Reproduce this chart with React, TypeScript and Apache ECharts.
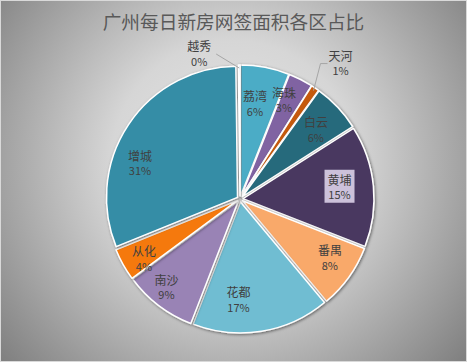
import React, { useEffect, useRef } from "react";
import * as echarts from "echarts";

const titleText = "广州每日新房网签面积各区占比";
const districts = ["荔湾", "海珠", "天河", "白云", "黄埔", "番禺", "花都", "南沙", "从化", "增城", "越秀"];
const shares = [6, 3, 1, 6, 15, 8, 17, 9, 4, 31, 0.2];
const colors = ["#4bacc6", "#8064a2", "#c55a11", "#276a7c", "#4a3860", "#f9a96b", "#70bdd2", "#9983b5", "#f5790c", "#358da6", "#5a9bd5"];
const outsideLabels = ["天河", "越秀"];
const boxedLabels = ["黄埔"];
// small label nudges (layout only), matching the reference's best-fit label placement
const labelNudges: Record<string, [number, number]> = {
  荔湾: [-4, 4],
  海珠: [-2, -9],
  白云: [2, 0],
  黄埔: [-1.5, -3],
  番禺: [7.5, -1],
  花都: [-18, 0],
  南沙: [-12, 7],
  从化: [-7.5, 9.5],
  增城: [-15.5, 20],
};

const FONT = "'Noto Sans CJK SC', 'Noto Sans', sans-serif";

export default function App() {
  const ref = useRef<HTMLDivElement>(null);
  useEffect(() => {
    document.body.style.margin = "0";
    const chart = echarts.init(ref.current!, undefined, { renderer: "svg" });
    const cx = 239;
    const cy = 198;
    const R = 131;

    const mainData = districts.map((name, i) => ({
      name,
      value: shares[i],
      selected: true,
      itemStyle: { color: colors[i] },
    }));

    const labelData = districts.map((name, i) => {
      const outside = outsideLabels.includes(name);
      const boxed = boxedLabels.includes(name);
      const item: any = { name, value: shares[i] };
      if (outside) {
        item.label = { position: "outside", distanceToLabelLine: 2 };
        item.labelLine = { show: true, length: 14, length2: 8 };
      }
      if (boxed) {
        item.label = { backgroundColor: "#ccc1da", padding: [2, 3, 1, 3] };
      }
      return item;
    });

    chart.setOption({
      animation: false,
      backgroundColor: "transparent",
      title: {
        text: titleText,
        left: "center",
        top: 5,
        textStyle: { fontFamily: FONT, fontSize: 18.7, fontWeight: "normal", color: "#595959" },
      },
      series: [
        {
          type: "pie",
          z: 2,
          center: [cx, cy],
          radius: [0, R],
          startAngle: 90,
          clockwise: true,
          selectedMode: "multiple",
          selectedOffset: 3,
          silent: true,
          label: { show: false },
          labelLine: { show: false },
          itemStyle: {
            borderColor: "#ffffff",
            borderWidth: 1.5,
            shadowBlur: 3,
            shadowColor: "rgba(0,0,0,0.5)",
            shadowOffsetX: 1,
            shadowOffsetY: 1,
          },
          select: { itemStyle: { borderColor: "#ffffff", borderWidth: 1.5 } },
          data: mainData,
        },
        {
          type: "pie",
          z: 5,
          center: [cx, cy],
          radius: [66, R],
          startAngle: 90,
          clockwise: true,
          silent: true,
          avoidLabelOverlap: false,
          percentPrecision: 0,
          itemStyle: { color: "transparent", borderWidth: 0 },
          label: {
            show: true,
            position: "inside",
            formatter: "{n|{b}}\n{p|{d}%}",
            rich: {
              n: { fontFamily: FONT, fontSize: 12, color: "#404040", lineHeight: 15, align: "center" },
              p: { fontFamily: FONT, fontSize: 11, color: "#404040", lineHeight: 15, align: "center" },
            },
          },
          labelLine: { show: false, lineStyle: { color: "#a6a6a6", width: 1 } },
          labelLayout: (params: any) => {
            const name = districts[params.dataIndex];
            const pts = params.labelLinePoints;
            if (!outsideLabels.includes(name)) {
              const nudge = labelNudges[name];
              return nudge ? { dx: nudge[0], dy: nudge[1] } : {};
            }
            if (!pts) return {};
            const p0 = pts[0];
            if (name === "天河") {
              const p1 = [p0[0] + 7, p0[1] - 27];
              const p2 = [p1[0] + 7, p1[1]];
              return {
                x: p2[0] + 1,
                y: p2[1] - 1,
                align: "left",
                verticalAlign: "middle",
                labelLinePoints: [p0, p1, p2],
              };
            }
            const p1 = [p0[0] - 23, p0[1] - 14];
            return {
              x: p1[0] - 5,
              y: p1[1] - 1,
              align: "right",
              verticalAlign: "middle",
              labelLinePoints: [p0, p1, p1],
            };
          },
          data: labelData,
        },
      ],
    });
    return () => chart.dispose();
  }, []);

  return (
    <div
      ref={ref}
      style={{
        position: "absolute",
        left: 0,
        top: 0,
        width: 467,
        height: 362,
        boxSizing: "border-box",
        border: "1px solid #d9d9d9",
        background:
          "radial-gradient(circle farthest-corner at 50% 45%, #e6e6e6 0%, #d6d6d6 40%, #7f7f7f 100%)",
      }}
    />
  );
}
